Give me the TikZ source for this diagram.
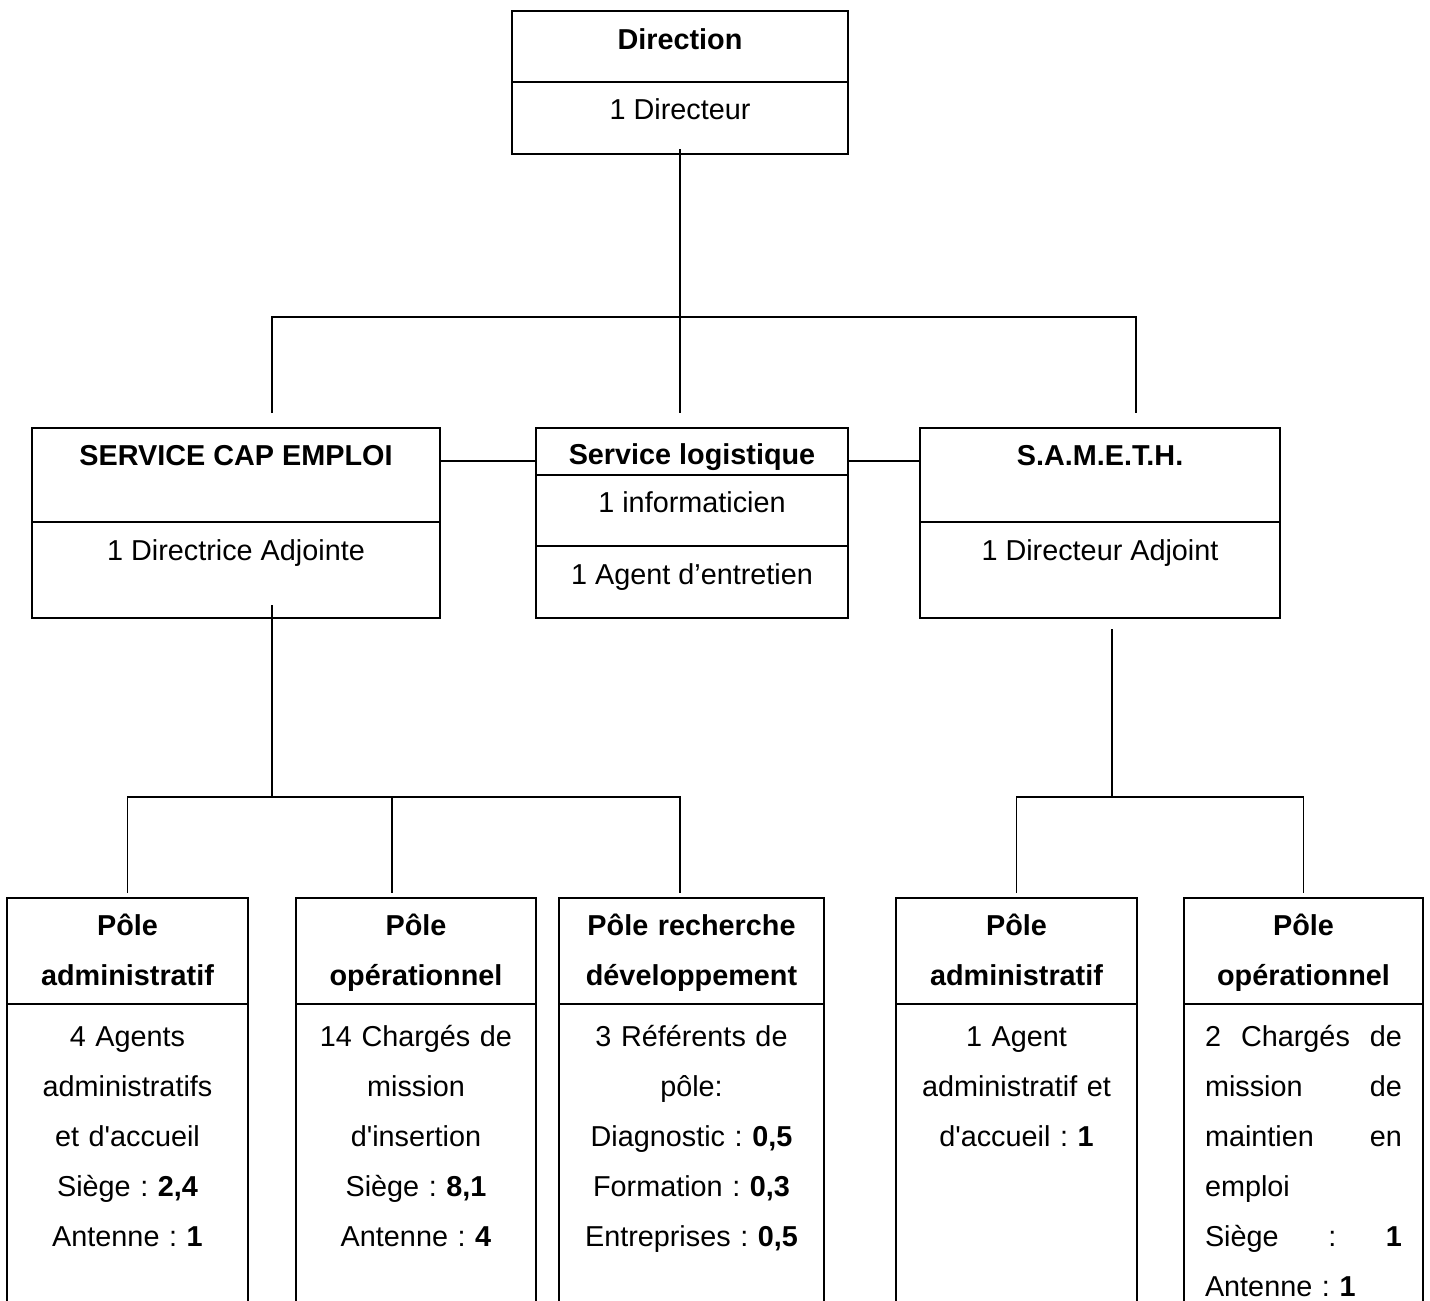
\documentclass[tikz,border=0pt]{standalone}
\usepackage{fontspec}
\setmainfont{Liberation Sans}[Ligatures=TeXOff]
\usetikzlibrary{positioning}

\begin{document}
\begin{tikzpicture}[x=0.5pt, y=-0.5pt,
    line width=0.9pt,
    cell/.style 2 args={rectangle, draw, inner sep=0pt, outer sep=0pt, minimum width=#1*0.5pt, minimum height=#2*0.5pt},
    txt/.style={anchor=base, inner sep=0pt, align=center, font=\fontsize{14.4}{25}\selectfont\frenchspacing},
    head/.style={txt, font=\fontsize{14.4}{25}\selectfont\frenchspacing\bfseries}
]
\clip (0,0) rectangle (1430,1301);

% Direction
\node[cell={336}{71}, anchor=north west] (dirT) at (512,11) {};
\node[cell={336}{72}, below=0pt of dirT] (dirB) {};
\node[head] (dirTx) at ([yshift=-19pt]dirT.north) {Direction};
\node[txt] (dirBx) at ([yshift=-18.5pt]dirB.north) {1 Directeur};

% Services
\node[cell={408}{94}, anchor=north west] (capT) at (32,428) {};
\node[cell={408}{96}, below=0pt of capT] (capB) {};
\node[head] (capTx) at ([yshift=-18.5pt]capT.north) {SERVICE CAP EMPLOI};
\node[txt] (capBx) at ([yshift=-19pt]capB.north) {1 Directrice Adjointe};

\node[cell={312}{47}, anchor=north west] (logT) at (536,428) {};
\node[cell={312}{71}, below=0pt of logT] (logM) {};
\node[cell={312}{72}, below=0pt of logM] (logB) {};
\node[head] (logTx) at ([yshift=-18pt]logT.north) {Service logistique};
\node[txt] (logMx) at ([yshift=-18.5pt]logM.north) {1 informaticien};
\node[txt] (logBx) at ([yshift=-19pt]logB.north) {1 Agent d’entretien};

\node[cell={360}{94}, anchor=north west] (samT) at (920,428) {};
\node[cell={360}{96}, below=0pt of samT] (samB) {};
\node[head] (samTx) at ([yshift=-18.5pt]samT.north) {S.A.M.E.T.H.};
\node[txt] (samBx) at ([yshift=-19pt]samB.north) {1 Directeur Adjoint};

% Poles CAP EMPLOI
\node[cell={241}{106}, anchor=north west] (adm1T) at (7,898) {};
\node[cell={241}{330}, below=0pt of adm1T] (adm1B) {};
\node[head, text width=100pt] (adm1Tx) at ([yshift=-18.5pt]adm1T.north) {Pôle\\administratif};
\node[txt, text width=100pt] (adm1Bx) at ([yshift=-21pt]adm1B.north) {4 Agents\\administratifs\\et d'accueil\\Siège : \textbf{2,4}\\Antenne : \textbf{1}};

\node[cell={240}{106}, anchor=north west] (ope1T) at (296,898) {};
\node[cell={240}{330}, below=0pt of ope1T] (ope1B) {};
\node[head, text width=100pt] (ope1Tx) at ([yshift=-18.5pt]ope1T.north) {Pôle\\opérationnel};
\node[txt, text width=100pt] (ope1Bx) at ([yshift=-21pt]ope1B.north) {14 Chargés de\\mission\\d'insertion\\Siège : \textbf{8,1}\\Antenne : \textbf{4}};

\node[cell={265}{106}, anchor=north west] (rdT) at (559,898) {};
\node[cell={265}{330}, below=0pt of rdT] (rdB) {};
\node[head, text width=115pt] (rdTx) at ([yshift=-18.5pt]rdT.north) {Pôle recherche\\développement};
\node[txt, text width=115pt] (rdBx) at ([yshift=-21pt]rdB.north) {3 Référents de\\pôle:\\Diagnostic : \textbf{0,5}\\Formation : \textbf{0,3}\\Entreprises : \textbf{0,5}};

% Poles S.A.M.E.T.H.
\node[cell={241}{106}, anchor=north west] (adm2T) at (896,898) {};
\node[cell={241}{330}, below=0pt of adm2T] (adm2B) {};
\node[head, text width=100pt] (adm2Tx) at ([yshift=-18.5pt]adm2T.north) {Pôle\\administratif};
\node[txt, text width=100pt] (adm2Bx) at ([yshift=-21pt]adm2B.north) {1 Agent\\administratif et\\d'accueil : \textbf{1}};

\node[cell={239}{106}, anchor=north west] (ope2T) at (1184,898) {};
\node[cell={239}{330}, below=0pt of ope2T] (ope2B) {};
\node[head, text width=100pt] (ope2Tx) at ([yshift=-18.5pt]ope2T.north) {Pôle\\opérationnel};
\node[txt, align=left, text width=98.5pt] (ope2Bx) at ([yshift=-21pt]ope2B.north) {2\hfill Chargés\hfill de\\mission\hfill de\\maintien\hfill en\\emploi\\Siège\hfill:\hfill\textbf{1}\\Antenne : \textbf{1}};

% Links
\coordinate (hubTop) at (680,317);
\coordinate (barL) at (272,317);
\coordinate (barR) at (1136,317);
\coordinate (linkY) at (0,461);
\coordinate (capHub) at (272,797);
\coordinate (opeDrop) at (392,797);
\coordinate (rdDrop) at (680,797);
\coordinate (samHub) at (1112,797);

\draw ([yshift=2.5pt]dirB.south) -- (hubTop) -- ([yshift=7.5pt]hubTop |- logT.north);
\draw ([yshift=7.5pt]barL |- capT.north) |- (barR) -- ([yshift=7.5pt]barR |- samT.north);
\draw (capT.east |- linkY) -- (logT.west |- linkY);
\draw (logT.east |- linkY) -- (samT.west |- linkY);

\draw ([yshift=6.5pt]capB.south -| capHub) -- (capHub);
\draw ([yshift=2.5pt]adm1T.north) |- (rdDrop) -- ([yshift=2.5pt]rdDrop |- rdT.north);
\draw (opeDrop) -- ([yshift=2.5pt]opeDrop |- ope1T.north);

\draw ([yshift=-5.5pt]samB.south -| samHub) -- (samHub);
\draw ([yshift=2.5pt]adm2T.north) |- (samHub -| ope2T.north) -- ([yshift=2.5pt]ope2T.north);

\end{tikzpicture}
\end{document}
